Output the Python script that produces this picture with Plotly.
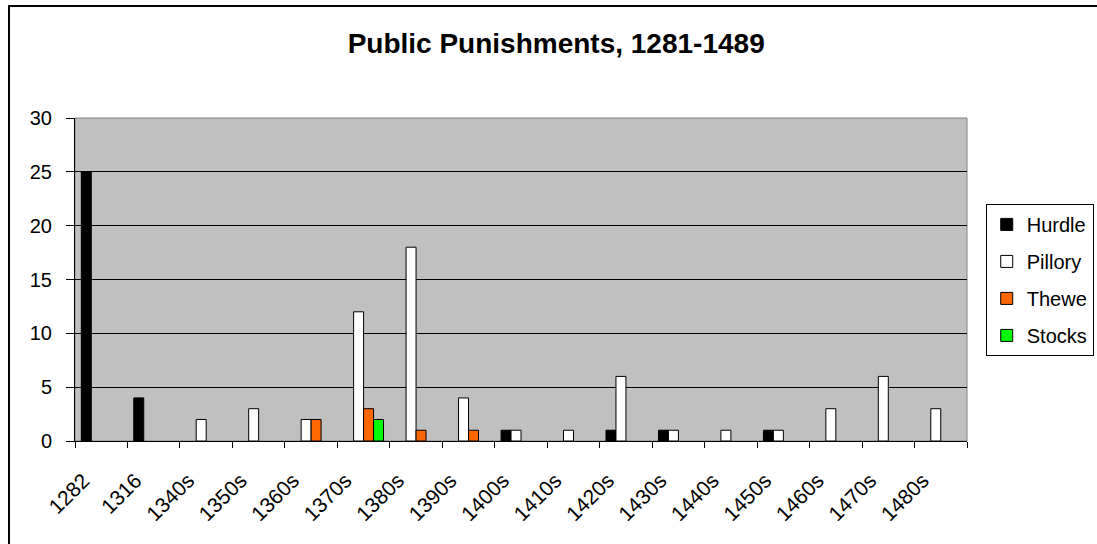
import plotly.graph_objects as go

categories = ["1282", "1316", "1340s", "1350s", "1360s", "1370s", "1380s", "1390s",
              "1400s", "1410s", "1420s", "1430s", "1440s", "1450s", "1460s", "1470s", "1480s"]
hurdle =  [25, 4, 0, 0, 0, 0, 0, 0, 1, 0, 1, 1, 0, 1, 0, 0, 0]
pillory = [0, 0, 2, 3, 2, 12, 18, 4, 1, 1, 6, 1, 1, 1, 3, 6, 3]
thewe =   [0, 0, 0, 0, 2, 3, 1, 1, 0, 0, 0, 0, 0, 0, 0, 0, 0]
stocks =  [0, 0, 0, 0, 0, 2, 0, 0, 0, 0, 0, 0, 0, 0, 0, 0, 0]

series = [("Hurdle", hurdle, "#000000"),
          ("Pillory", pillory, "#FFFFFF"),
          ("Thewe", thewe, "#FF6600"),
          ("Stocks", stocks, "#00FF00")]

FONT = "Liberation Sans, Arial, sans-serif"

fig = go.Figure()
for name, vals, col in series:
    fig.add_trace(go.Bar(
        x=categories, y=[v if v != 0 else None for v in vals], name=name,
        legendgroup=name,
        marker=dict(color=col, line=dict(color="#000000", width=1)),
    ))

fig.update_layout(
    width=1097, height=544,
    margin=dict(l=75, r=130, t=118, b=103, autoexpand=False),
    paper_bgcolor="#FFFFFF",
    plot_bgcolor="#C0C0C0",
    barmode="group",
    bargap=0.24,
    bargroupgap=0,
    font=dict(family=FONT, size=20, color="#000000"),
    title=dict(text="<b>Public Punishments, 1281-1489</b>", x=0.507, xanchor="center",
               y=0.921, yanchor="middle", font=dict(family=FONT, size=28, color="#000000")),
    legend=dict(x=1.021, y=0.734, xanchor="left", yanchor="top",
                bordercolor="#000000", borderwidth=1, bgcolor="#FFFFFF",
                font=dict(family=FONT, size=20), tracegroupgap=8),
    showlegend=True,
)

fig.update_xaxes(
    type="category", tickangle=-45, showgrid=False,
    showline=True, linecolor="#000000", linewidth=1,
    ticks="outside", tickson="boundaries", ticklen=6, tickcolor="#000000",
    tickfont=dict(family=FONT, size=21),
    ticklabelstandoff=18, ticklabelshift=-18,
)
fig.update_yaxes(
    range=[0, 30], dtick=5, showgrid=True, gridcolor="#000000", gridwidth=1,
    showline=True, linecolor="#000000", linewidth=1,
    ticks="outside", ticklen=8, tickcolor="#000000",
    tickfont=dict(family=FONT, size=20), zeroline=False,
    ticklabelstandoff=10,
)

# plot area border (gray) and outer chart border (black)
fig.add_shape(type="rect", xref="paper", yref="paper", x0=0, x1=1, y0=0, y1=1,
              line=dict(color="#808080", width=1), layer="below")
fig.add_shape(type="rect", xref="paper", yref="paper", x0=-0.074, x1=1.3, y0=-0.5, y1=1.3467,
              line=dict(color="#000000", width=2))

fig.write_html("out.html", config={"displayModeBar": False},
               post_script="document.body.style.margin='0';")
